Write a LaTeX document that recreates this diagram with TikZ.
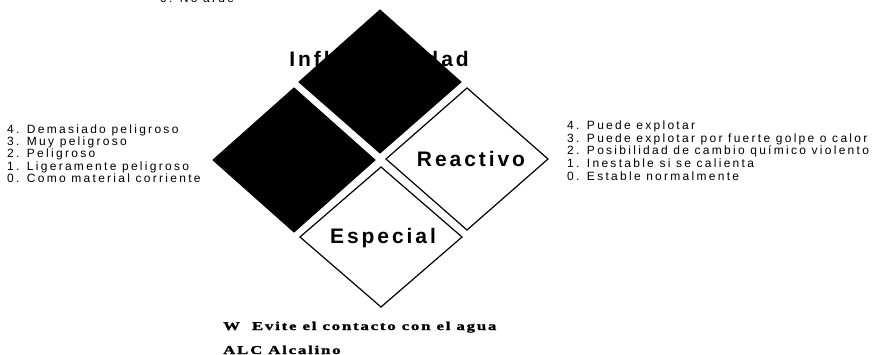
\documentclass[tikz,border=0pt]{standalone}
\usepackage{fontspec}
\setmainfont{Liberation Sans}
\newfontfamily\listfont[LetterSpace=19]{Liberation Sans}
\newfontfamily\labfont[LetterSpace=14]{Liberation Sans}
\newfontfamily\serfont[FakeStretch=1.4,LetterSpace=15,FakeBold=1.5]{Liberation Serif}
\begin{document}
\begin{tikzpicture}[x=1pt,y=-1pt,
  blackdia/.style={fill=black,draw=black,line width=1pt},
  whitedia/.style={fill=white,draw=black,line width=1.2pt},
  lab/.style={font=\labfont\fontsize{21}{24}\selectfont\bfseries,inner sep=0pt},
  leftlist/.style={font=\listfont\fontsize{12}{12.3}\selectfont,align=left,inner sep=0pt},
  rightlist/.style={font=\listfont\fontsize{12}{12.7}\selectfont,align=left,inner sep=0pt},
  note/.style={font=\serfont\fontsize{12}{14}\selectfont\bfseries,inner sep=0pt}]
\useasboundingbox (0,0) rectangle (874,355);
\clip (0,0) rectangle (874,355);
\fill[white] (0,0) rectangle (874,355);
% centres of the four diamonds
\coordinate (ct) at (380,82);
\coordinate (cl) at (294,160);
\coordinate (cr) at (467,159);
\coordinate (cb) at (381,237);
% diamonds
\draw[blackdia] ([shift={(0,-72)}]ct) -- ([shift={(81,0)}]ct) -- ([shift={(0,71)}]ct) -- ([shift={(-81,0)}]ct) -- cycle;
\draw[blackdia] ([shift={(0,-72)}]cl) -- ([shift={(81,0)}]cl) -- ([shift={(0,72)}]cl) -- ([shift={(-81,0)}]cl) -- cycle;
\draw[whitedia] ([shift={(0,-71)}]cr) -- ([shift={(81,0)}]cr) -- ([shift={(0,71)}]cr) -- ([shift={(-81,0)}]cr) -- cycle;
\draw[whitedia] ([shift={(0,-70)}]cb) -- ([shift={(81,0)}]cb) -- ([shift={(0,70)}]cb) -- ([shift={(-81,0)}]cb) -- cycle;
% labels
\node[lab,anchor=base] (infl) at (379,67) {Inflamabilidad};
\node[lab,anchor=base] (reac) at (471,167) {Reactivo};
\node[lab,anchor=base] (espe) at (383,243) {Especial};
% lists
\node[leftlist,anchor=base west] (noarde) at (160,3) {0. No arde};
\node[leftlist,anchor=west] (salud) at (7,153.5) {4. Demasiado peligroso\\3. Muy peligroso\\2. Peligroso\\1. Ligeramente peligroso\\0. Como material corriente};
\node[rightlist,anchor=west] (reaclist) at (567,150.5) {4. Puede explotar\\3. Puede explotar por fuerte golpe o calor\\2. Posibilidad de cambio químico violento\\1. Inestable si se calienta\\0. Estable normalmente};
% notes
\node[note,anchor=base west] (agua) at (223,330) {W\ \ Evite el contacto con el agua};
\node[note,anchor=base west] (alc) at (223,354) {ALC Alcalino};
\end{tikzpicture}
\end{document}
